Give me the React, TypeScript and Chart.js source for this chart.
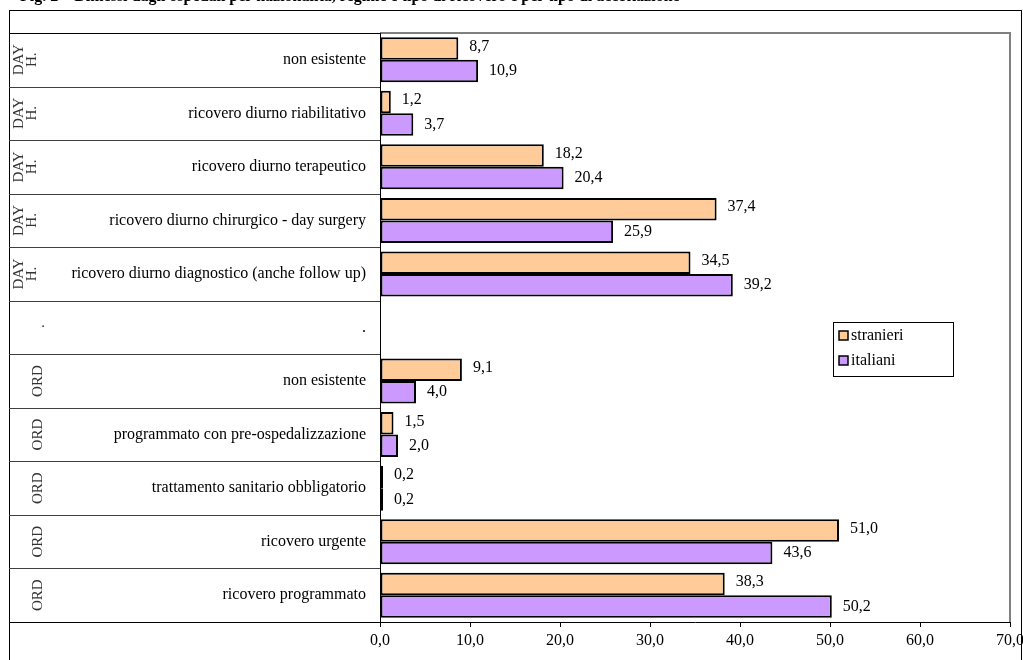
import React, { useEffect, useRef } from 'react';
import { Chart, registerables } from 'chart.js';
Chart.register(...registerables);

const categories = [
  'non esistente',
  'ricovero diurno riabilitativo',
  'ricovero diurno terapeutico',
  'ricovero diurno chirurgico - day surgery',
  'ricovero diurno diagnostico (anche follow up)',
  '.',
  'non esistente',
  'programmato con pre-ospedalizzazione',
  'trattamento sanitario obbligatorio',
  'ricovero urgente',
  'ricovero programmato',
];
const groups: string[][] = [
  ['DAY', 'H.'], ['DAY', 'H.'], ['DAY', 'H.'], ['DAY', 'H.'], ['DAY', 'H.'],
  ['.'],
  ['ORD'], ['ORD'], ['ORD'], ['ORD'], ['ORD'],
];
const stranieri: (number | null)[] = [8.7, 1.2, 18.2, 37.4, 34.5, null, 9.1, 1.5, 0.2, 51.0, 38.3];
const italiani: (number | null)[] = [10.9, 3.7, 20.4, 25.9, 39.2, null, 4.0, 2.0, 0.2, 43.6, 50.2];
const seriesNames = ['stranieri', 'italiani'];
const seriesColors = ['#FFCC99', '#CC99FF'];
const xMin = 0;
const xMax = 70;
const xStep = 10;
const titleText = 'Fig. 2 – Dimessi dagli ospedali per nazionalità, regime e tipo di ricovero e per tipo di accettazione';

const FONT = '"Liberation Serif", "Times New Roman", serif';
const fmt = (v: number) => v.toFixed(1).replace('.', ',');

const decorPlugin = {
  id: 'decor',
  afterDraw(chart: any) {
    const { ctx, chartArea } = chart;
    const { left, top, right, bottom } = chartArea;
    const n = categories.length;
    const h = (bottom - top) / n;
    ctx.save();
    // outer frame
    ctx.strokeStyle = '#000';
    ctx.lineWidth = 1;
    ctx.strokeRect(9.5, 10.5, 1012, 720);
    // plot area border (top + right), grey
    ctx.strokeStyle = '#808080';
    ctx.lineWidth = 2;
    ctx.beginPath();
    ctx.moveTo(left, top);
    ctx.lineTo(right, top);
    ctx.lineTo(right, bottom);
    ctx.stroke();
    // table on the left
    ctx.lineWidth = 1;
    for (let i = 0; i <= n; i++) {
      const y = Math.round(top + i * h) + 0.5;
      ctx.strokeStyle = i === 0 || i === n ? '#000' : '#404040';
      ctx.beginPath();
      ctx.moveTo(9, y);
      ctx.lineTo(left, y);
      ctx.stroke();
    }
    ctx.strokeStyle = '#000';
    ctx.beginPath();
    ctx.moveTo(left + 0.5, top);
    ctx.lineTo(left + 0.5, bottom + 5);
    ctx.stroke();
    // category labels
    ctx.fillStyle = '#000';
    ctx.font = '16px ' + FONT;
    ctx.textAlign = 'right';
    ctx.textBaseline = 'middle';
    for (let i = 0; i < n; i++) {
      const y = chart.scales.y.getPixelForValue(i);
      ctx.fillText(categories[i], 366, y);
    }
    // group labels (rotated)
    ctx.font = '15px ' + FONT;
    ctx.fillStyle = '#333';
    ctx.textAlign = 'center';
    for (let i = 0; i < n; i++) {
      const y = chart.scales.y.getPixelForValue(i);
      const g = groups[i];
      if (g.length === 1 && g[0] === '.') {
        ctx.fillText('.', 43, y - 4);
        continue;
      }
      const xs = g.length === 2 ? [19, 32] : [38];
      g.forEach((t, k) => {
        ctx.save();
        ctx.translate(xs[k], y);
        ctx.rotate(-Math.PI / 2);
        ctx.fillText(t, 0, 0);
        ctx.restore();
      });
    }
    // data labels
    ctx.fillStyle = '#000';
    ctx.font = '16px ' + FONT;
    ctx.textAlign = 'left';
    chart.data.datasets.forEach((ds: any, di: number) => {
      const meta = chart.getDatasetMeta(di);
      meta.data.forEach((bar: any, i: number) => {
        const v = ds.data[i];
        if (v === null || v === undefined) return;
        ctx.fillText(fmt(v), bar.x + 11, bar.y - (di === 0 ? 2 : 0));
      });
    });
    // legend
    const lx = 833, ly = 322, lw = 120, lh = 54;
    ctx.fillStyle = '#fff';
    ctx.fillRect(lx, ly, lw, lh);
    ctx.strokeStyle = '#000';
    ctx.lineWidth = 1;
    ctx.strokeRect(lx + 0.5, ly + 0.5, lw, lh);
    seriesNames.forEach((name, k) => {
      const cy = ly + 14 + k * 25;
      ctx.fillStyle = seriesColors[k];
      ctx.fillRect(lx + 6, cy - 5, 9, 9);
      ctx.lineWidth = 1.5;
      ctx.strokeStyle = '#000';
      ctx.strokeRect(lx + 6, cy - 5, 9, 9);
      ctx.fillStyle = '#000';
      ctx.font = '16px ' + FONT;
      ctx.textAlign = 'left';
      ctx.textBaseline = 'middle';
      ctx.fillText(name, lx + 18, cy);
    });
    ctx.restore();
  },
};

export default function App() {
  const ref = useRef<HTMLCanvasElement>(null);
  useEffect(() => {
    document.body.style.margin = '0';
    const canvas = ref.current;
    if (!canvas) return;
    const ticks: number[] = [];
    for (let v = xMin; v <= xMax; v += xStep) ticks.push(v);
    const chart = new Chart(canvas, {
      type: 'bar',
      data: {
        labels: categories,
        datasets: [
          {
            label: seriesNames[0],
            data: stranieri,
            backgroundColor: seriesColors[0],
            borderColor: '#000',
            borderWidth: 2,
            borderSkipped: false,
            minBarLength: 3,
          },
          {
            label: seriesNames[1],
            data: italiani,
            backgroundColor: seriesColors[1],
            borderColor: '#000',
            borderWidth: 2,
            borderSkipped: false,
            minBarLength: 3,
          },
        ],
      } as any,
      options: {
        indexAxis: 'y',
        animation: false,
        responsive: false,
        devicePixelRatio: 1,
        layout: { padding: { left: 380, top: 33, right: 13, bottom: 0 } },
        datasets: { bar: { categoryPercentage: 0.84, barPercentage: 1 } },
        plugins: { legend: { display: false }, tooltip: { enabled: false }, title: { display: false } },
        scales: {
          y: { display: false, grid: { display: false } },
          x: {
            min: xMin,
            max: xMax,
            afterBuildTicks: (scale: any) => {
              scale.ticks = ticks.map((v) => ({ value: v }));
            },
            afterFit: (scale: any) => {
              scale.height = 38;
              scale.paddingLeft = 0;
              scale.paddingRight = 0;
            },
            grid: { drawOnChartArea: false, drawTicks: true, tickLength: 5, color: '#000' },
            border: { display: true, color: '#000', width: 1 },
            ticks: {
              color: '#000',
              font: { family: FONT, size: 16 },
              padding: 4,
              maxRotation: 0,
              autoSkip: false,
              callback: (v: any) => fmt(Number(v)),
            },
          },
        },
      } as any,
      plugins: [decorPlugin],
    });
    return () => chart.destroy();
  }, []);
  return (
    <div style={{ position: 'fixed', left: 0, top: 0, width: 1023, height: 660, background: '#fff' }}>
      <canvas ref={ref} width={1023} height={660} style={{ position: 'absolute', left: 0, top: 0 }} />
      <div style={{ position: 'absolute', left: 0, top: 0, width: 1023, height: 7, overflow: 'hidden' }}>
        <div style={{ position: 'absolute', left: 20, top: -13, whiteSpace: 'nowrap', font: 'bold 16px ' + FONT, color: '#000' }}>
          {titleText}
        </div>
      </div>
    </div>
  );
}
